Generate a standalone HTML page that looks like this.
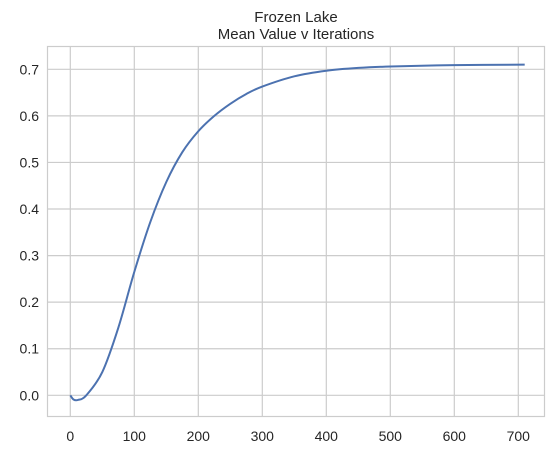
<!DOCTYPE html>
<html><head><meta charset="utf-8"><style>
body{margin:0;background:#fff;font-family:"Liberation Sans","DejaVu Sans",sans-serif}
</style></head><body>
<svg width="553" height="455" xmlns="http://www.w3.org/2000/svg">
<text x="296" y="22" text-anchor="middle" font-size="15" fill="#262626">Frozen Lake</text>
<text x="296" y="39" text-anchor="middle" font-size="15" fill="#262626">Mean Value v Iterations</text>
<g id="grid"></g>
<rect x="47.5" y="46.5" width="497" height="370" fill="none" stroke="#ccc" stroke-width="1.2"/>
<g id="ticks"></g>
<path id="line" fill="none" stroke="#4c72b0" stroke-width="2"/>
</svg>
<script>
const xTicks=[0,100,200,300,400,500,600,700];
const yTicks=[0.0,0.1,0.2,0.3,0.4,0.5,0.6,0.7];
const iterations=[0,5,12,25,50,75,100,125,150,175,200,225,250,275,300,350,400,450,500,600,710];
const meanValues=[0,-0.009,-0.01,0.0,0.05,0.145,0.265,0.372,0.458,0.522,0.567,0.6,0.626,0.647,0.663,0.685,0.697,0.703,0.706,0.709,0.710];
const X=v=>70.3+v*0.64;
const Y=v=>395.3-v*465.7;
const ns="http://www.w3.org/2000/svg";
const grid=document.getElementById('grid'),ticks=document.getElementById('ticks');
xTicks.forEach(t=>{
 const l=document.createElementNS(ns,'line');
 
 
 l.setAttribute('x1',X(t));l.setAttribute('x2',X(t));l.setAttribute('y1',46.5);l.setAttribute('y2',416.5);
 l.setAttribute('stroke','#ccc');l.setAttribute('stroke-width','1.2');grid.appendChild(l);
 const s=document.createElementNS(ns,'text');
 
 
 s.setAttribute('x',X(t));s.setAttribute('y',441);s.setAttribute('text-anchor','middle');
 s.setAttribute('font-size','14');s.setAttribute('fill','#262626');s.textContent=t;ticks.appendChild(s);
});
yTicks.forEach(t=>{
 const l=document.createElementNS(ns,'line');
 
 
 l.setAttribute('x1',47.5);l.setAttribute('x2',544.5);l.setAttribute('y1',Y(t));l.setAttribute('y2',Y(t));
 l.setAttribute('stroke','#ccc');l.setAttribute('stroke-width','1.2');grid.appendChild(l);
 const s=document.createElementNS(ns,'text');
 
 
 s.setAttribute('x',39);s.setAttribute('y',Y(t)+5);s.setAttribute('text-anchor','end');
 s.setAttribute('font-size','14');s.setAttribute('fill','#262626');s.textContent=t.toFixed(1);ticks.appendChild(s);
});
const P=iterations.map((v,i)=>[X(v),Y(meanValues[i])]);
let d='M'+P[0][0]+','+P[0][1];
for(let i=0;i<P.length-1;i++){
 const p0=P[Math.max(0,i-1)],p1=P[i],p2=P[i+1],p3=P[Math.min(P.length-1,i+2)];
 const c1=[p1[0]+(p2[0]-p0[0])/6,p1[1]+(p2[1]-p0[1])/6];
 const c2=[p2[0]-(p3[0]-p1[0])/6,p2[1]-(p3[1]-p1[1])/6];
 d+=` C${c1[0]},${c1[1]} ${c2[0]},${c2[1]} ${p2[0]},${p2[1]}`;
}
document.getElementById('line').setAttribute('d',d);
</script>
</body></html>
